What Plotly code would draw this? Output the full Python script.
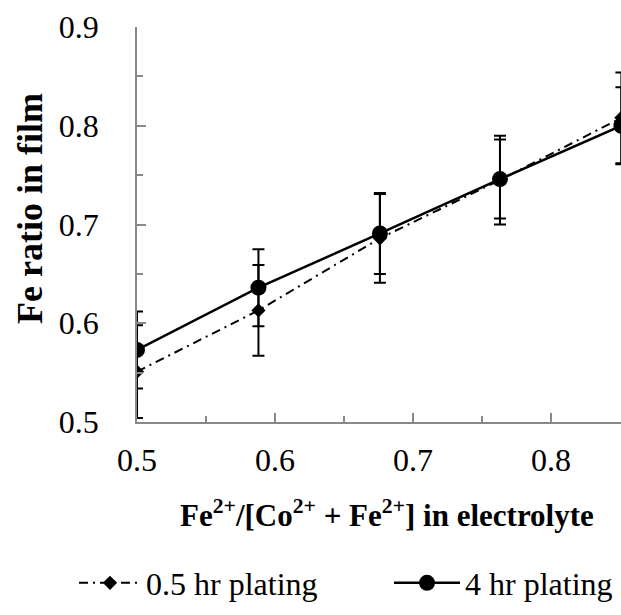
import plotly.graph_objects as go

# Data
fe_ratio_electrolyte = [0.5, 0.588, 0.676, 0.763, 0.851]
fe_film_05hr = [0.551, 0.613, 0.686, 0.745, 0.808]
err_05hr = [0.047, 0.046, 0.045, 0.045, 0.046]
fe_film_4hr = [0.573, 0.636, 0.691, 0.746, 0.800]
err_4hr = [0.039, 0.039, 0.041, 0.040, 0.039]
series_names = ["0.5 hr plating", "4 hr plating"]
x_ticks = [0.5, 0.6, 0.7, 0.8]
y_ticks = [0.5, 0.6, 0.7, 0.8, 0.9]

FONT = "Liberation Serif"
AXIS_GRAY = "#898989"

fig = go.Figure()
fig.add_trace(go.Scatter(
    x=fe_ratio_electrolyte, y=fe_film_05hr, name=series_names[0], legend="legend",
    mode="lines+markers",
    line=dict(color="black", width=2, dash="9px,5px,2px,5px"),
    marker=dict(symbol="diamond", size=11, color="black"),
    error_y=dict(type="data", array=err_05hr, visible=True, color="black", thickness=2, width=6),
))
fig.add_trace(go.Scatter(
    x=fe_ratio_electrolyte, y=fe_film_4hr, name=series_names[1], legend="legend2",
    mode="lines+markers",
    line=dict(color="black", width=2.5),
    marker=dict(symbol="circle", size=16, color="black"),
    error_y=dict(type="data", array=err_4hr, visible=True, color="black", thickness=2, width=6),
))

axis_common = dict(
    showline=True, linecolor=AXIS_GRAY, linewidth=1.5,
    ticks="inside", ticklen=9, tickwidth=1.5, tickcolor=AXIS_GRAY,
    showgrid=False, zeroline=False, automargin=False,
    tickfont=dict(family=FONT, size=32, color="black"),
    tickformat=".1f",
)
fig.update_xaxes(range=[0.5, 0.8507], tickvals=x_ticks,
                 minor=dict(ticks="inside", ticklen=6, tickwidth=1.5, tickcolor=AXIS_GRAY, dtick=0.05, tick0=0.5),
                 ticklabelstandoff=9, **axis_common)
fig.update_yaxes(range=[0.5, 0.9], tickvals=y_ticks,
                 minor=dict(ticks="inside", ticklen=6, tickwidth=1.5, tickcolor=AXIS_GRAY, dtick=0.05, tick0=0.5),
                 ticklabelstandoff=30, **axis_common)

fig.add_annotation(
    text="<b>Fe<sup>2+</sup>/[Co<sup>2+</sup> + Fe<sup>2+</sup>] in electrolyte</b>",
    xref="paper", yref="paper", x=(387 - 137) / 484, y=(422 - 513) / 395,
    xanchor="center", yanchor="middle", showarrow=False,
    font=dict(family=FONT, size=31, color="black"),
)
fig.add_annotation(
    text="<b>Fe ratio in film</b>",
    xref="paper", yref="paper", x=(30 - 137) / 484, y=(422 - 209) / 395,
    xanchor="center", yanchor="middle", showarrow=False, textangle=-90,
    font=dict(family=FONT, size=36, color="black"),
)

legend_common = dict(orientation="h", xanchor="left", yanchor="middle",
                     y=(422 - 583) / 395,
                     font=dict(family=FONT, size=32, color="black"),
                     bgcolor="rgba(0,0,0,0)")

fig.update_layout(
    width=621, height=615, autosize=False,
    margin=dict(l=137, r=0, t=27, b=193, autoexpand=False),
    plot_bgcolor="white", paper_bgcolor="white",
    font=dict(family=FONT, size=32, color="black"),
    showlegend=True,
    legend=dict(x=(74 - 137) / 484, itemwidth=62, **legend_common),
    legend2=dict(x=(389 - 137) / 484, itemwidth=66, **legend_common),
)

fig.write_html("out.html",
               config={"displayModeBar": False},
               post_script="document.body.style.margin='0px';document.body.style.overflow='hidden';")
